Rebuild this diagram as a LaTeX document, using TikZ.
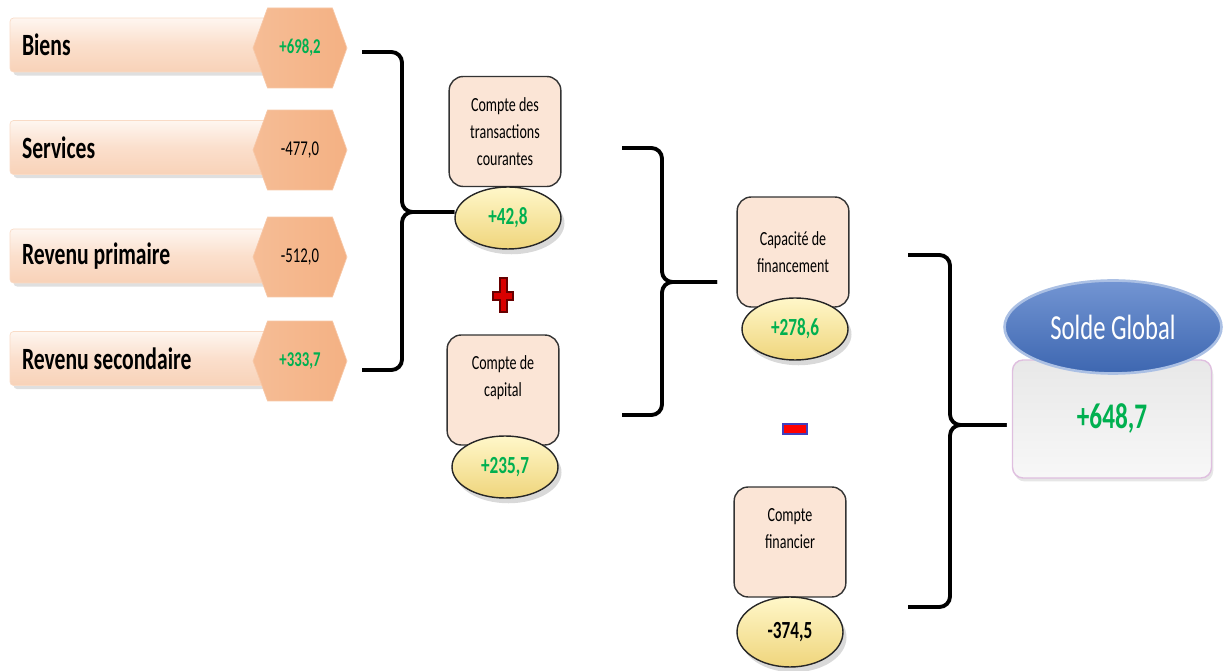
\documentclass[tikz,border=0pt]{standalone}
\usepackage{fontspec}
\setmainfont{Carlito}[FakeStretch=0.7]
\usepackage{tikz}
\usetikzlibrary{shapes.geometric,shapes.symbols,shadows}
\definecolor{vert}{HTML}{00B050}
\definecolor{peche}{HTML}{FBE5D6}
\definecolor{hexa}{HTML}{F4B183}
\definecolor{barhaut}{HTML}{FEF6F0}
\definecolor{barmil}{HTML}{FBDFCC}
\definecolor{barbas}{HTML}{F8D2B8}
\definecolor{jauneh}{HTML}{FFF7C9}
\definecolor{jauneb}{HTML}{EFD57C}
\definecolor{bleu}{HTML}{4472C4}
\tikzstyle{poste} = [rectangle, rounded corners=2pt, minimum width=5.2cm, minimum height=1.08cm, inner xsep=0.24cm, text width=4.72cm, align=flush left, top color=barhaut, bottom color=barbas, middle color=barmil, draw=barbas!80, font=\bfseries\fontsize{17.6}{20}\selectfont, drop shadow={opacity=0.25, shadow xshift=2pt, shadow yshift=-2pt}]
\tikzstyle{valeur} = [signal, signal to=east and west, signal pointer angle=140, minimum width=1.88cm, minimum height=1.6cm, inner sep=0pt, left color=hexa!85!white, right color=hexa, draw=hexa!70!white, font=\fontsize{12}{14}\selectfont]
\tikzstyle{compte} = [rectangle, rounded corners=8pt, draw=black!80, line width=0.8pt, fill=peche, minimum width=2.2cm, minimum height=2.2cm, text width=2cm, align=flush center, font=\fontsize{11.4}{15.5}\selectfont]
\tikzstyle{montant} = [ellipse, draw=black!85, line width=0.8pt, top color=jauneh, bottom color=jauneb, minimum width=2.12cm, minimum height=1.24cm, inner sep=0pt, font=\bfseries\fontsize{14}{16}\selectfont, drop shadow={opacity=0.3, shadow xshift=2pt, shadow yshift=-3pt}]
\tikzstyle{accolade} = [line width=2.2pt, rounded corners=6pt]

\begin{document}
\begin{tikzpicture}[x=0.02cm, y=-0.02cm]
	\useasboundingbox (0,0) rectangle (1227,671);
	% postes de la balance courante
	\node[poste] (biens) at (140,45) {Biens};
	\node[poste] (services) at (140,147.5) {Services};
	\node[poste] (primaire) at (140,256) {Revenu primaire};
	\node[poste] (secondaire) at (140,358.5) {Revenu secondaire};
	\node[valeur] (biensval) at (300,48) {\textbf{\color{vert}+698,2}};
	\node[valeur] (servicesval) at (300,150) {-477,0};
	\node[valeur] (primaireval) at (300,257) {-512,0};
	\node[valeur] (secondaireval) at (300,361) {\textbf{\color{vert}+333,7}};

	% comptes
	\node[compte] (tcbox) at (505,131.5) {Compte des\\transactions\\courantes};
	\node[montant] (tcval) at (508,218) {\color{vert}+42,8};
	\node[compte] (kbox) at (503,390) {Compte de\\capital\\\mbox{}};
	\node[montant] (kval) at (505,467) {\color{vert}+235,7};
	\node[compte] (cfbox) at (793,252) {Capacité de\\financement};
	\node[montant] (cfval) at (795,329) {\color{vert}+278,6};
	\node[compte] (finbox) at (790,542) {Compte\\financier\\\mbox{}};
	\node[montant, minimum height=1.4cm] (finval) at (790,632) {-374,5};

	% signes
	\filldraw[fill=red!85!black, draw=black!60!red, line width=0.6pt] (500,278) -- (507,278) -- (507,292) -- (513,292) -- (513,300) -- (507,300) -- (507,312) -- (500,312) -- (500,300) -- (493,300) -- (493,292) -- (500,292) -- cycle;
	\filldraw[fill=red, draw=blue!50!gray, line width=0.6pt] (783,424) rectangle (807,434);

	% solde global
	\node[rectangle, rounded corners=6pt, minimum width=3.98cm, minimum height=2.36cm, top color=black!9, bottom color=black!3, draw=violet!25, line width=0.8pt, font=\bfseries\fontsize{20.5}{24}\selectfont, drop shadow={opacity=0.2, shadow xshift=1pt, shadow yshift=-2pt}] (sgbox) at (1112,419) {\color{vert}+648,7};
	\node[ellipse, minimum width=4.34cm, minimum height=1.86cm, top color=bleu!75!white, bottom color=bleu!90!black, draw=bleu!45!white, line width=1.5pt, text=white, font=\fontsize{20}{24}\selectfont] (sgell) at (1113,327) {Solde Global};

	% accolades
	\coordinate (j1) at (402,212);
	\draw[accolade] (362,52) -| (j1) -- (j1 -| tcval.west);
	\draw[accolade] (362,370) -| (j1) -- (j1 -| tcval.west);
	\coordinate (j2) at (662,282);
	\draw[accolade] (622,148) -| (j2) -- ([xshift=-11pt]j2 -| cfbox.west);
	\draw[accolade] (622,415) -| (j2) -- ([xshift=-11pt]j2 -| cfbox.west);
	\coordinate (j3) at (950,425);
	\draw[accolade] (908,255) -| (j3) -- ([xshift=-3pt]j3 -| sgbox.west);
	\draw[accolade] (908,607) -| (j3) -- ([xshift=-3pt]j3 -| sgbox.west);
\end{tikzpicture}
\end{document}
